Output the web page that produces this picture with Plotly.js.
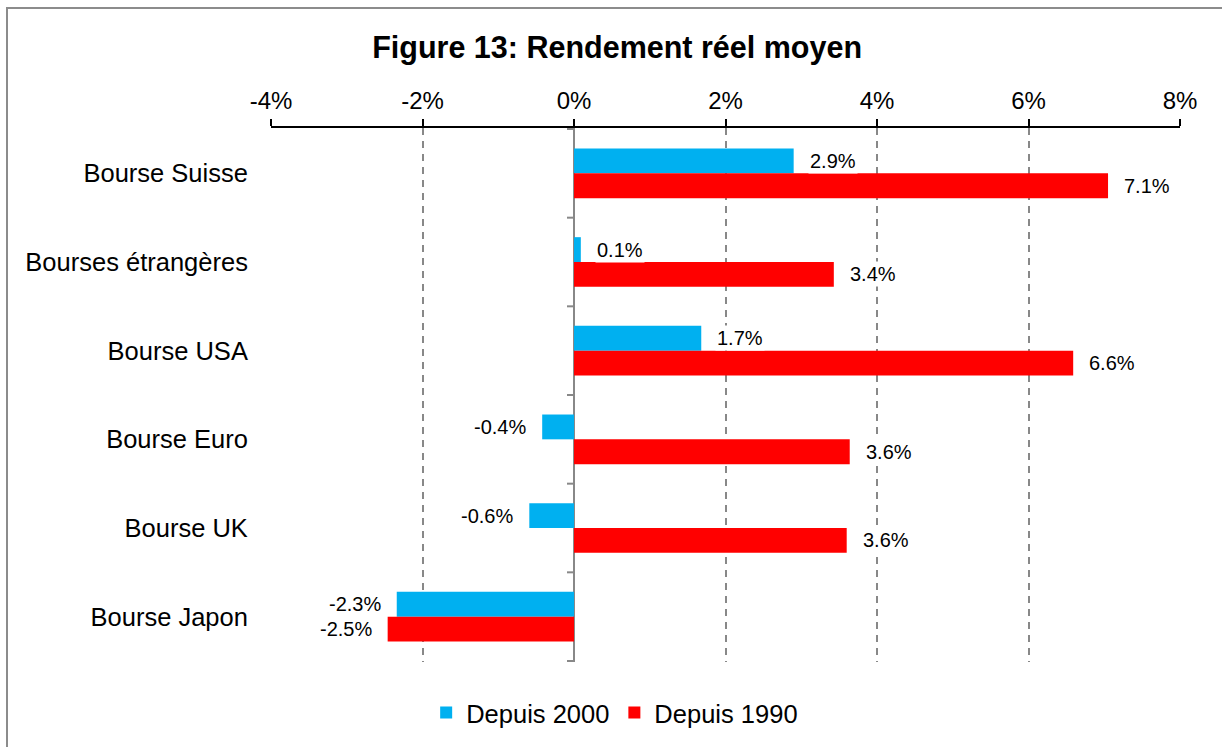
<!DOCTYPE html>
<html>
<head>
<meta charset="utf-8">
<script src="https://cdn.plot.ly/plotly-3.0.1.min.js"></script>
<style>
  html, body { margin: 0; padding: 0; background: #fff; }
  #wrap { position: relative; width: 1222px; height: 747px; overflow: hidden; }
  #chart { position: absolute; left: 0; top: 0; width: 1222px; height: 747px; }
  #frame { position: absolute; left: 6px; top: 7px; width: 1300px; height: 900px;
           border-left: 2px solid #8c8c8c; border-top: 2px solid #8c8c8c; pointer-events: none; }
</style>
</head>
<body>
<div id="wrap">
  <div id="chart"></div>
  <div id="frame"></div>
</div>
<script>
// ---- data ----
const categories = ["Bourse Suisse", "Bourses étrangères", "Bourse USA", "Bourse Euro", "Bourse UK", "Bourse Japon"];
const seriesNames = ["Depuis 2000", "Depuis 1990"];
const since2000 = [2.9, 0.09, 1.68, -0.42, -0.59, -2.34];
const since1990 = [7.05, 3.43, 6.59, 3.64, 3.60, -2.46];
const labels2000 = ["2.9%", "0.1%", "1.7%", "-0.4%", "-0.6%", "-2.3%"];
const labels1990 = ["7.1%", "3.4%", "6.6%", "3.6%", "3.6%", "-2.5%"];
const xTickVals = [-4, -2, 0, 2, 4, 6, 8];
const xTickText = ["-4%", "-2%", "0%", "2%", "4%", "6%", "8%"];
const titleText = "Figure 13: Rendement réel moyen";

// ---- style ----
const FONT = "'Liberation Sans', Arial, sans-serif";
const BLUE = "#00B0F0";
const RED = "#FF0000";
const GRAY = "#888888";
const BARGAP = 0.44;

const traces = [
  { type: "bar", orientation: "h", name: seriesNames[0], x: since2000, y: categories,
    marker: { color: BLUE }, hoverinfo: "x+y" },
  { type: "bar", orientation: "h", name: seriesNames[1], x: since1990, y: categories,
    marker: { color: RED }, hoverinfo: "x+y" }
];

const barOffset = (1 - BARGAP) / 4;
const annotations = [];
function addLabels(vals, labs, sign) {
  vals.forEach((v, i) => {
    annotations.push({
      x: v, y: i + sign * barOffset, xref: "x", yref: "y",
      text: labs[i], showarrow: false,
      xanchor: v >= 0 ? "left" : "right",
      xshift: v >= 0 ? 14 : -14,
      bgcolor: "#ffffff", borderpad: 1,
      font: { family: FONT, size: 20, color: "#000" }
    });
  });
}
addLabels(since2000, labels2000, -1);
addLabels(since1990, labels1990, 1);

const shapes = [];
for (let i = 0; i <= categories.length; i++) {
  shapes.push({
    type: "line", xref: "x", yref: "y", xsizemode: "pixel", xanchor: 0,
    x0: -7, x1: 0, y0: i - 0.5, y1: i - 0.5,
    line: { color: GRAY, width: 2 }, layer: "above"
  });
}

const layout = {
  width: 1222, height: 747,
  margin: { l: 271, r: 42, t: 128, b: 85, pad: 0 },
  paper_bgcolor: "#ffffff", plot_bgcolor: "#ffffff",
  font: { family: FONT, color: "#000" },
  title: {
    text: "<b>" + titleText + "</b>",
    font: { family: FONT, size: 30.5, color: "#000" },
    x: 0.505, xref: "container", xanchor: "center",
    y: 1 - 47 / 747, yref: "container", yanchor: "middle"
  },
  barmode: "group", bargap: BARGAP, bargroupgap: 0,
  xaxis: {
    side: "top", range: [-4, 8], tickvals: xTickVals, ticktext: xTickText,
    ticks: "outside", ticklen: 7, tickwidth: 2, tickcolor: "#000",
    showline: true, linecolor: "#000", linewidth: 2,
    showgrid: true, gridcolor: GRAY, gridwidth: 2, griddash: "7px,6px",
    zeroline: true, zerolinecolor: GRAY, zerolinewidth: 2,
    tickfont: { family: FONT, size: 24, color: "#000" },
    fixedrange: true
  },
  yaxis: {
    type: "category", autorange: "reversed",
    ticks: "outside", ticklen: 17, tickcolor: "rgba(0,0,0,0)",
    showline: false, showgrid: false, zeroline: false,
    tickfont: { family: FONT, size: 25.5, color: "#000" },
    fixedrange: true
  },
  showlegend: true,
  legend: {
    orientation: "h", xref: "container", yref: "container",
    x: 0.503, xanchor: "center", y: 1 - 713 / 747, yanchor: "middle",
    font: { family: FONT, size: 25.5, color: "#000" },
    traceorder: "normal", itemclick: false, itemdoubleclick: false
  },
  annotations: annotations,
  shapes: shapes
};

Plotly.newPlot("chart", traces, layout, { displayModeBar: false, staticPlot: true });
</script>
</body>
</html>
